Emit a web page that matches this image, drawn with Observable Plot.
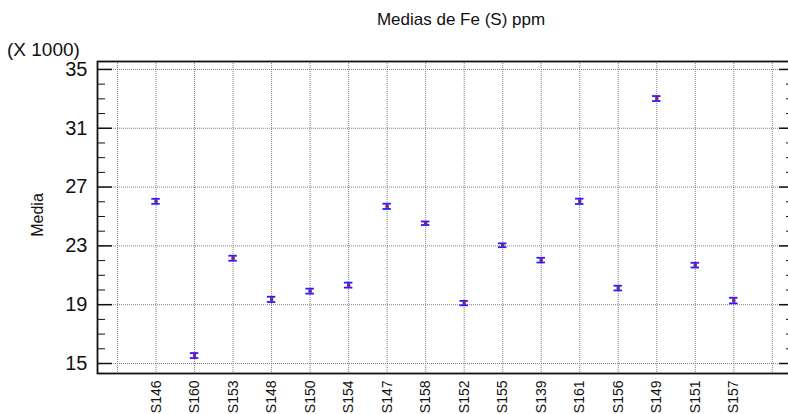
<!DOCTYPE html>
<html>
<head>
<meta charset="utf-8">
<script src="https://cdn.jsdelivr.net/npm/d3@7"></script>
<script src="https://cdn.jsdelivr.net/npm/@observablehq/plot@0.6"></script>
<style>
  html, body { margin: 0; padding: 0; background: #fff; }
  body { position: relative; width: 788px; height: 414px; overflow: hidden; font-family: "Liberation Sans", Arial, sans-serif; }
  #title { position: absolute; left: 0; width: 922px; top: 10px; text-align: center; font-size: 17px; color: #111; }
  #mult { position: absolute; left: 7px; top: 40px; font-size: 19px; line-height: 1; color: #111; }
  #ylab { position: absolute; left: 38px; top: 215px; font-size: 16px; color: #111; transform: translate(-50%, -50%) rotate(-90deg); white-space: nowrap; }
  #chart { position: absolute; left: 0; top: 0; }
</style>
</head>
<body>
<div id="chart"></div>
<div id="title">Medias de Fe (S) ppm</div>
<div id="mult">(X 1000)</div>
<div id="ylab">Media</div>
<script>
// Categories and means (x 1000 ppm)
const categories = ["S146","S160","S153","S148","S150","S154","S147","S158","S152","S155","S139","S161","S156","S149","S151","S157"];
const means = [26.03, 15.54, 22.16, 19.36, 19.92, 20.33, 25.69, 24.54, 19.11, 23.04, 22.03, 26.03, 20.13, 33.02, 21.69, 19.28];
const halfErr = [0.17, 0.17, 0.17, 0.18, 0.17, 0.17, 0.18, 0.12, 0.15, 0.13, 0.16, 0.18, 0.16, 0.17, 0.16, 0.19];
// Tick values
const yMajor = [15, 19, 23, 27, 31, 35];
const yMinor = [16, 17, 18, 20, 21, 22, 24, 25, 26, 28, 29, 30, 32, 33, 34];
const xGrid = [0, 1, 2, 3, 4, 5, 6, 7, 8, 9, 10, 11, 12, 13, 14, 15, 16, 17];
const xTicks = [1, 2, 3, 4, 5, 6, 7, 8, 9, 10, 11, 12, 13, 14, 15, 16];

const data = categories.map((c, k) => ({i: k + 1, cat: c, v: means[k], e: halfErr[k]}));
const capHalf = 0.11;

const gridStyle = {stroke: "#808080", strokeOpacity: 1, strokeWidth: 1, strokeDasharray: "1,1"};

const chart = Plot.plot({
  width: 788,
  height: 414,
  marginLeft: 97,
  marginRight: -5,
  marginTop: 61,
  marginBottom: 41,
  style: {fontFamily: "'Liberation Sans', Arial, sans-serif", color: "#111", background: "#fff"},
  x: {type: "linear", domain: [-0.52, 17.55]},
  y: {domain: [14.32, 35.54]},
  marks: [
    Plot.gridX(xGrid, gridStyle),
    Plot.gridY(yMajor, gridStyle),
    Plot.axisY(yMajor, {anchor: "left", tickSize: 0, tickPadding: 10, fontSize: 20, label: null}),
    Plot.axisY(yMajor, {anchor: "left", tickSize: -15, tickFormat: () => "", label: null, strokeWidth: 1.5, stroke: "#111"}),
    Plot.axisY(yMinor, {anchor: "left", tickSize: -8, tickFormat: () => "", label: null, stroke: "#111"}),
    Plot.axisY(yMajor, {anchor: "right", tickSize: -15, tickFormat: () => "", label: null, strokeWidth: 1.5, stroke: "#111"}),
    Plot.axisY(yMinor, {anchor: "right", tickSize: -8, tickFormat: () => "", label: null, stroke: "#111"}),
    Plot.axisX(xTicks, {anchor: "bottom", tickSize: 0, tickPadding: 7, tickRotate: -90, fontSize: 14, tickFormat: (d) => categories[d - 1], label: null}),
    Plot.frame({stroke: "#111", strokeWidth: 1.8}),
    Plot.ruleX(data, {x: "i", y1: (d) => d.v - d.e, y2: (d) => d.v + d.e, stroke: "#6060ff", strokeWidth: 3}),
    Plot.ruleY(data, {y: (d) => d.v - d.e, x1: (d) => d.i - capHalf, x2: (d) => d.i + capHalf, stroke: "#2020ff", strokeWidth: 1.8}),
    Plot.ruleY(data, {y: (d) => d.v + d.e, x1: (d) => d.i - capHalf, x2: (d) => d.i + capHalf, stroke: "#2020ff", strokeWidth: 1.8}),
    Plot.dot(data, {x: "i", y: "v", r: 1.7, fill: "#b0105a", stroke: "none"})
  ]
});
document.getElementById("chart").appendChild(chart);
</script>
</body>
</html>
